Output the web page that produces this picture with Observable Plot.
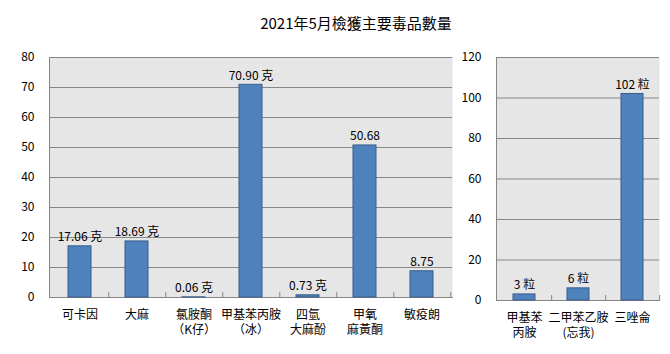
<!DOCTYPE html>
<html><head><meta charset="utf-8">
<script src="https://cdn.jsdelivr.net/npm/d3@7"></script>
<script src="https://cdn.jsdelivr.net/npm/@observablehq/plot@0.6"></script>
<style>
body{margin:0;background:#fff;font-family:"Noto Sans CJK TC",sans-serif;}
#wrap{position:relative;width:670px;height:354px;overflow:hidden;background:#fff;}
#title{position:absolute;top:12px;left:0;width:712px;text-align:center;font-size:15px;color:#000;}
#left{position:absolute;left:0;top:0;}
#right{position:absolute;left:460px;top:0;}
</style></head><body>
<div id="wrap"><div id="left"></div><div id="right"></div><div id="title">2021年5月檢獲主要毒品數量</div></div>
<script>
// Left panel (grams)
const gramCats = ["可卡因","大麻","氯胺酮","甲基苯丙胺","四氫大麻酚","甲氧麻黃酮","敏疫朗"];
const gramLabels = ["可卡因","大麻","氯胺酮\n（K仔）","甲基苯丙胺\n（冰）","四氫\n大麻酚","甲氧\n麻黃酮","敏疫朗"];
const gramValues = [17.06, 18.69, 0.06, 70.90, 0.73, 50.68, 8.75];
const gramValueLabels = ["17.06 克","18.69 克","0.06 克","70.90 克","0.73 克","50.68","8.75"];
const gramTicks = [0,10,20,30,40,50,60,70,80];
// Right panel (pills)
const pillCats = ["甲基苯丙胺","二甲苯乙胺","三唑侖"];
const pillLabels = ["甲基苯\n丙胺","二甲苯乙胺\n(忘我)","三唑侖"];
const pillValues = [3, 6, 102];
const pillValueLabels = ["3 粒","6 粒","102 粒"];
const pillTicks = [0,20,40,60,80,100,120];

const FONT = '"Noto Sans CJK TC", sans-serif';

function panel(cats, labels, values, valueLabels, ticks, L) {
  const step = (L.width - L.ml - L.mr) / cats.length;
  return Plot.plot({
    width: L.width, height: L.height,
    marginLeft: L.ml, marginRight: L.mr, marginTop: L.mt, marginBottom: L.mb,
    style: {fontFamily: FONT, fontSize: "12px", color: "#000", background: "transparent", overflow: "visible"},
    x: {domain: cats, paddingInner: 0.6, paddingOuter: 0.3, axis: null},
    y: {domain: [0, ticks[ticks.length - 1]], axis: null},
    marks: [
      Plot.frame({fill: "#e6e6e6", stroke: null}),
      Plot.ruleY(ticks, {stroke: "#868686", strokeWidth: 1}),
      Plot.frame({anchor: "left", stroke: "#868686"}),
      Plot.frame({anchor: "bottom", stroke: "#868686"}),
      Plot.ruleX(cats, {x: d => d, dx: step / 2, y1: 0, y2: 0, insetTop: -5, stroke: "#868686"}),
      Plot.barY(values, {x: (d, i) => cats[i], y: d => d, fill: "#4F81BD", stroke: "#385D8A", strokeWidth: 1}),
      Plot.text(values, {x: (d, i) => cats[i], y: d => d, text: (d, i) => valueLabels[i], lineAnchor: "bottom", dy: -5, fontSize: 12, fill: "#000"}),
      Plot.text(cats, {x: d => d, y: () => 0, text: (d, i) => labels[i], lineAnchor: "top", dy: 11, fontSize: 12, lineHeight: 1.25, fill: "#000"}),
      Plot.axisY(ticks, {tickSize: 0, tickPadding: 15, fontSize: 12, fill: "#000", tickFormat: d => String(d)})
    ]
  });
}

document.getElementById("left").append(
  panel(gramCats, gramLabels, gramValues, gramValueLabels, gramTicks, {width: 460, height: 354, ml: 49, mr: 8, mt: 57, mb: 57})
);
document.getElementById("right").append(
  panel(pillCats, pillLabels, pillValues, pillValueLabels, pillTicks, {width: 210, height: 354, ml: 36, mr: 11, mt: 57, mb: 54})
);
</script>
</body></html>
